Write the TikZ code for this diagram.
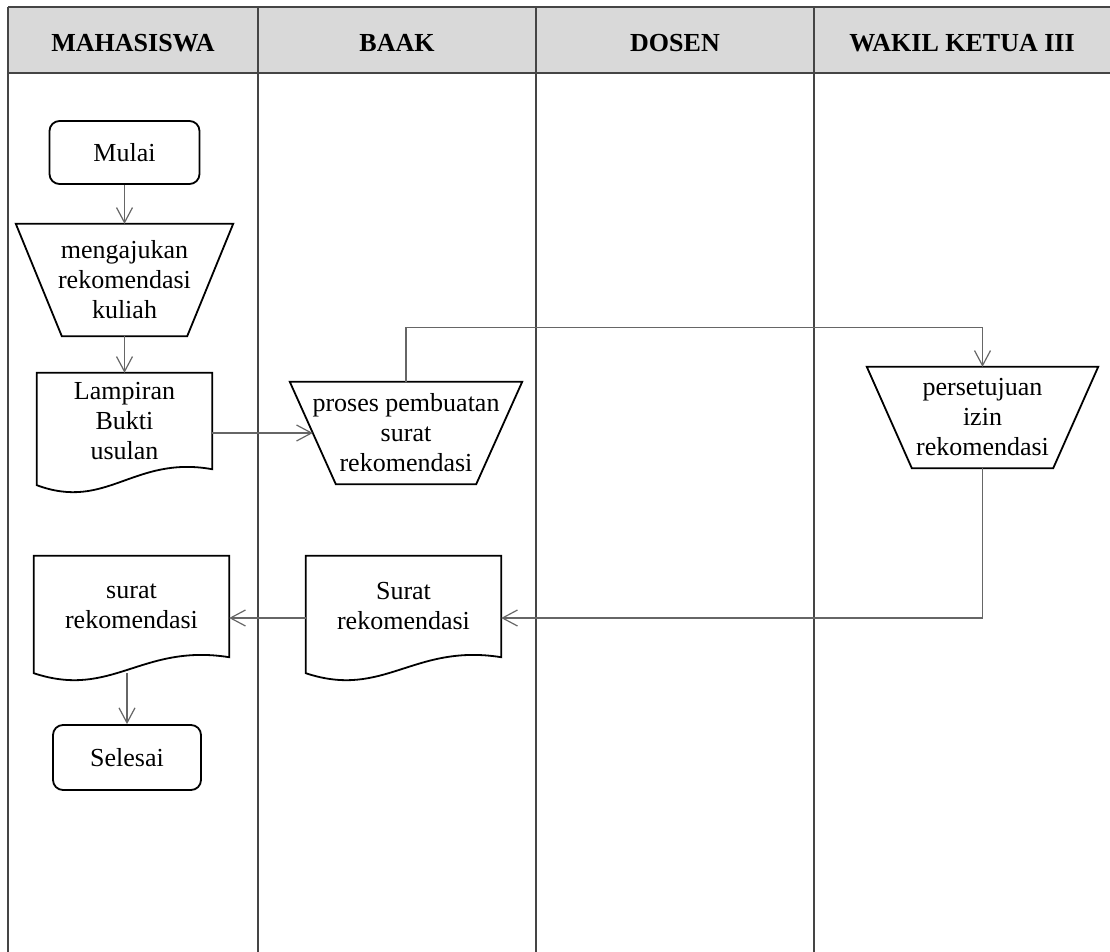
\documentclass[tikz,border=0pt]{standalone}
\usepackage{fontspec}
\setmainfont{Liberation Serif}
\usetikzlibrary{arrows.meta,calc}
\definecolor{hdrfill}{HTML}{D9D9D9}
\definecolor{lanecol}{HTML}{454545}
\definecolor{conncol}{HTML}{666666}
% document symbol drawn around an invisible node (wave below its south edge)
\newcommand\docframe[1]{%
  \draw[shapeline] (#1.north west) -- (#1.north east) -- (#1.south east)
    .. controls ($(#1.south west)!0.55!(#1.south east)+(0,-14)$)
    and ($(#1.south west)!0.4!(#1.south east)+(0,42)$)
    .. ($(#1.south west)+(0,16)$) -- cycle;}
% inverted trapezoid drawn on an invisible node
\newcommand\trapframe[2]{%
  \draw[shapeline] (#1.north west) -- (#1.north east)
    -- ($(#1.south east)+(-#2,0)$) -- ($(#1.south west)+(#2,0)$) -- cycle;}
\begin{document}
\begin{tikzpicture}[x=1pt,y=-1pt,
  lbl/.style={font=\fontsize{26}{30}\selectfont, align=center, inner sep=0pt},
  hdr/.style={font=\fontsize{26}{30}\selectfont\bfseries, inner sep=0pt, anchor=base},
  boxframe/.style={lbl, draw=none},
  shapeline/.style={draw=black, line width=1.8pt},
  term/.style={lbl, shapeline, rounded corners=10pt},
  lane/.style={draw=lanecol, line width=1.4pt},
  conn/.style={draw=conncol, line width=1.2pt, -{Straight Barb[length=15pt,width=16pt]}}]
\useasboundingbox (0,0) rectangle (1110,952);
% swimlane table
\fill[hdrfill] (8,7) rectangle (1110,73);
\draw[lane] (8,7) -- (1110,7);
\draw[lane, line width=1.8pt] (8,73) -- (1110,73);
\foreach \lx in {8,258,536,814} \draw[lane] (\lx,7) -- (\lx,952);
\node[hdr] (h1) at (133,52) {MAHASISWA};
\node[hdr] (h2) at (397,52) {BAAK};
\node[hdr] (h3) at (675,52) {DOSEN};
\node[hdr] (h4) at (962,52) {WAKIL KETUA III};
% nodes
\node[term, minimum width=150pt, minimum height=63pt] (mulai) at (124.5,152.5) {Mulai};
\node[boxframe, minimum width=217pt, minimum height=112pt] (t1) at (124.5,280) {mengajukan\\rekomendasi\\kuliah};
\trapframe{t1}{46}
\node[boxframe, minimum width=175pt, minimum height=96pt] (d1) at (124.5,421) {Lampiran\\Bukti\\usulan};
\docframe{d1}
\node[boxframe, minimum width=232pt, minimum height=102pt] (t2) at (406,433) {proses pembuatan\\surat\\rekomendasi};
\trapframe{t2}{46}
\node[boxframe, minimum width=231pt, minimum height=101pt] (t3) at (982.5,417.5) {persetujuan\\izin\\rekomendasi};
\trapframe{t3}{45}
\node[boxframe, minimum width=195pt, minimum height=101pt] (d3) at (403.5,606.5) {Surat\\rekomendasi};
\docframe{d3}
\node[boxframe, minimum width=195pt, minimum height=101pt] (d2) at (131.5,606.5) {surat\\rekomendasi};
\docframe{d2}
\node[term, minimum width=148pt, minimum height=65pt] (selesai) at (127,757.5) {Selesai};
% connectors
\draw[conn] (mulai.south) -- (t1.north);
\draw[conn] (t1.south) -- (d1.north);
\draw[conn] (d1.east |- t2.west) -- ($(t2.west)+(23,0)$);
\draw[conn] (t2.north) -- ++(0,-54) -| (t3.north);
\draw[conn] (t3.south) |- ($(d3.east)+(0,11.5)$);
\draw[conn] ($(d3.west)+(0,11.5)$) -- ($(d2.east)+(0,11.5)$);
\draw[conn] ($(d2.south -| selesai.north)+(0,16)$) -- (selesai.north);
\end{tikzpicture}
\end{document}
